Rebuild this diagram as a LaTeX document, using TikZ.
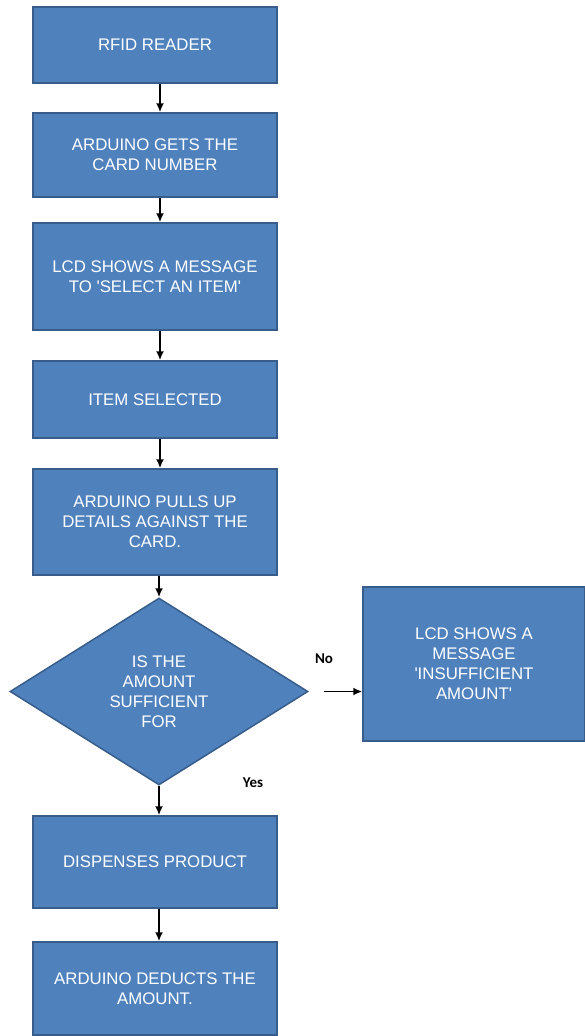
\documentclass[tikz,border=0pt]{standalone}
\usepackage{fontspec}
\setmainfont{Liberation Sans}
\newfontfamily\labelfont{Carlito}
\usetikzlibrary{arrows.meta}
\usetikzlibrary{shapes.geometric}

\definecolor{boxfill}{RGB}{79,129,189}
\definecolor{boxedge}{RGB}{56,93,138}

\tikzset{
    process/.style={draw=boxedge, fill=boxfill, line width=1.5pt, text=white,
        align=center, inner sep=0pt, font=\fontsize{16.8}{20}\selectfont},
    decision/.style={process, diamond, aspect=1.6},
    flow/.style={-{Latex[length=9pt,width=8pt]}, line width=1.8pt},
    branch/.style={font=\labelfont\bfseries\fontsize{15}{17}\selectfont},
}

\begin{document}
\begin{tikzpicture}[x=1pt,y=-1pt]
        \useasboundingbox (0,0) rectangle (585,1036);

        % Main column
        \node [process, minimum width=244pt, minimum height=76pt] (reader)
            at (155,45) {RFID READER};
        \node [process, minimum width=244pt, minimum height=84pt] (cardno)
            at (155,155) {ARDUINO GETS THE\\CARD NUMBER};
        \node [process, minimum width=244pt, minimum height=107pt] (select)
            at (155,276.5) {LCD SHOWS A MESSAGE\\TO \textquotesingle SELECT AN ITEM\textquotesingle};
        \node [process, minimum width=244pt, minimum height=77pt] (item)
            at (155,399.5) {ITEM SELECTED};
        \node [process, minimum width=244pt, minimum height=106pt] (details)
            at (155,522) {ARDUINO PULLS UP\\DETAILS AGAINST THE\\CARD.};

        % Decision
        \node [decision, minimum width=298pt, minimum height=187pt] (enough)
            at (159,691.5) {IS THE\\AMOUNT\\SUFFICIENT\\FOR};

        % Branch boxes
        \node [process, minimum width=222pt, minimum height=154pt] (short)
            at (474,664) {LCD SHOWS A\\MESSAGE\\\textquotesingle INSUFFICIENT\\AMOUNT\textquotesingle};
        \node [process, minimum width=244pt, minimum height=92pt] (dispense)
            at (155,862) {DISPENSES PRODUCT};
        \node [process, minimum width=244pt, minimum height=93pt] (deduct)
            at (155,988.5) {ARDUINO DEDUCTS THE\\AMOUNT.};

        % Connectors
        \draw [flow] ([xshift=5pt]reader.south) -- ([xshift=5pt]cardno.north);
        \draw [flow] ([xshift=5pt]cardno.south) -- ([xshift=5pt]select.north);
        \draw [flow] ([xshift=5pt]select.south) -- ([xshift=5pt]item.north);
        \draw [flow] ([xshift=5pt]item.south) -- ([xshift=5pt]details.north);
        \draw [flow] ([xshift=4pt]details.south) -- (enough.north);
        \draw [flow] (enough.south) -- ([xshift=4pt]dispense.north);
        \draw [flow] ([xshift=4pt]dispense.south) -- ([xshift=4pt]deduct.north);
        \coordinate (nostart) at ([xshift=15pt]enough.east);
        \draw [flow] (nostart) -- (nostart -| short.west);

        % Branch labels
        \node [branch] (no) at (324,659) {No};
        \node [branch] (yes) at (253,783) {Yes};

    \end{tikzpicture}
\end{document}
